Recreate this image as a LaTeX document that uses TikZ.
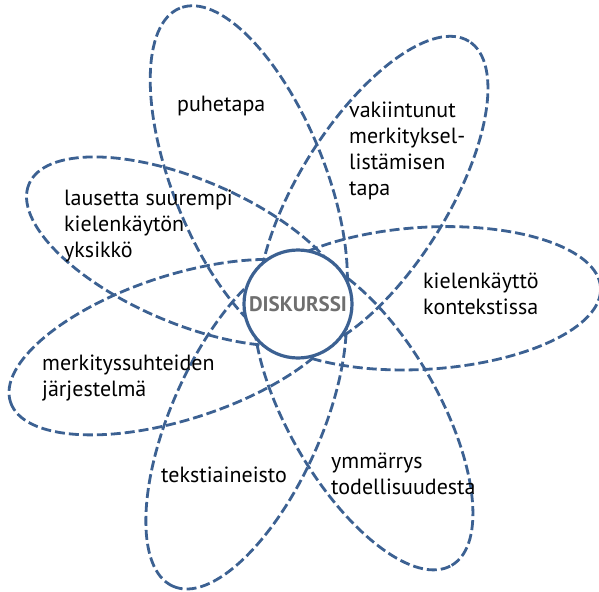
\documentclass[tikz,border=0pt]{standalone}
\usepackage{fontspec}
\setmainfont{PT Sans}
\usetikzlibrary{calc}
\definecolor{petalblue}{HTML}{3C6192}
\definecolor{centergray}{HTML}{6F6F6F}
\tikzset{
  petal/.style={draw=petalblue, line width=2.8pt, dash pattern=on 10pt off 4pt},
  petaltext/.style={anchor=base west, align=left, inner sep=0pt,
    font=\fontsize{22}{25.7}\selectfont},
}
\begin{document}
\begin{tikzpicture}[x=1pt, y=-1pt]
  \useasboundingbox (0,0) rectangle (599,591);
  % centre of the flower
  \coordinate (c) at (299,303);
  % petal centres
  \coordinate (pk) at ($(c)+(3.5:126pt)+(93.5:-3pt)$);
  \coordinate (pv) at ($(c)+(58:131pt)+(148:-5.5pt)$);
  \coordinate (pp) at ($(c)+(112:134pt)$);
  \coordinate (pl) at ($(c)+(157:122.5pt)+(247:-4pt)$);
  \coordinate (pm) at ($(c)+(198:127.5pt)+(288:5pt)$);
  \coordinate (pt) at ($(c)+(246:130pt)$);
  \coordinate (py) at ($(c)+(300:126.75pt)+(30:1pt)$);
  % petals
  \draw[petal, rotate around={3.5:(pk)}] (pk) ellipse [x radius=176pt, y radius=71pt];
  \draw[petal, rotate around={58:(pv)}] (pv) ellipse [x radius=181pt, y radius=74.5pt];
  \draw[petal, rotate around={112:(pp)}] (pp) ellipse [x radius=184pt, y radius=76pt];
  \draw[petal, rotate around={157:(pl)}] (pl) ellipse [x radius=172.5pt, y radius=72pt];
  \draw[petal, rotate around={198:(pm)}] (pm) ellipse [x radius=177.5pt, y radius=72pt];
  \draw[petal, rotate around={246:(pt)}] (pt) ellipse [x radius=180pt, y radius=75pt];
  \draw[petal, rotate around={300:(py)}] (py) ellipse [x radius=176.75pt, y radius=75pt];
  % centre circle
  \node[circle, draw=petalblue, fill=white, line width=3.2pt, minimum size=108pt,
    inner sep=0pt, text=centergray, font=\fontsize{21}{24}\selectfont\bfseries]
    (disk) at (298,304) {DISKURSSI};
  % labels
  \node[petaltext] (puhe) at (177,112) {puhetapa};
  \node[petaltext] (vaki) at (349,195) {vakiintunut\\merkityksel-\\listämisen\\tapa};
  \node[petaltext] (lause) at (64,257) {lausetta suurempi\\kielenkäytön\\yksikkö};
  \node[petaltext] (kieli) at (423,314) {kielenkäyttö\\kontekstissa};
  \node[petaltext] (merk) at (42,396) {merkityssuhteiden\\järjestelmä};
  \node[petaltext] (teksti) at (161,482) {tekstiaineisto};
  \node[petaltext] (ymm) at (331,494) {ymmärrys\\todellisuudesta};
\end{tikzpicture}
\end{document}
